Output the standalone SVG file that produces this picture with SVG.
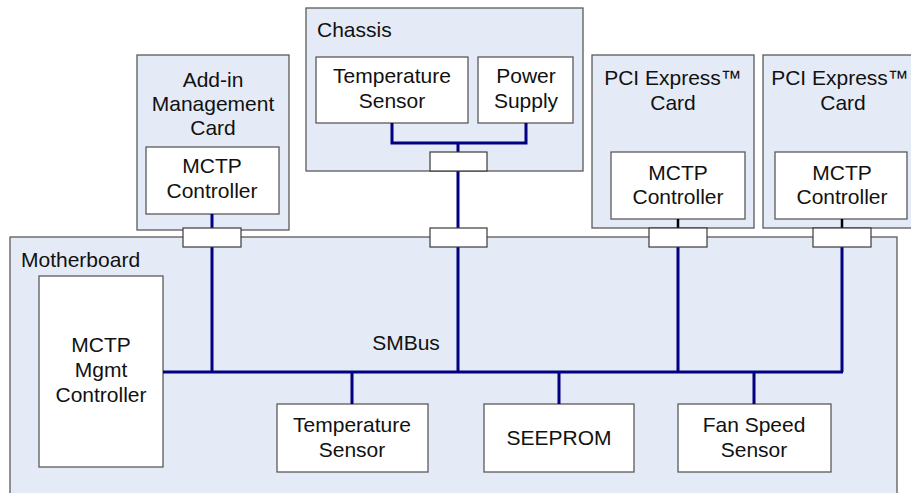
<svg xmlns="http://www.w3.org/2000/svg" width="911" height="493" viewBox="0 0 911 493">
<style>
.cont{fill:#e5ebf6;stroke:#5a5a5a;stroke-width:1.3}
.box{fill:#ffffff;stroke:#5a5a5a;stroke-width:1.3}
.conn{fill:#ffffff;stroke:#3a3a3a;stroke-width:1.2}
.bus{stroke:#000080;stroke-width:3;fill:none}
.blk{stroke:#000000;stroke-width:2.5;fill:none}
text{font-family:"Liberation Sans",Arial,sans-serif;font-size:21px;fill:#111}
.c{text-anchor:middle}
</style>
<rect width="911" height="493" fill="#ffffff"/>
<g id="addin-card">
<rect class="cont" x="137" y="55" width="152" height="175"/>
<text class="c" x="213" y="87">Add-in</text>
<text class="c" x="213" y="111">Management</text>
<text class="c" x="213" y="135">Card</text>
</g>
<g id="addin-mctp">
<rect class="box" x="146" y="147" width="133" height="67"/>
<text class="c" x="212" y="173">MCTP</text>
<text class="c" x="212" y="198">Controller</text>
</g>
<g id="chassis">
<rect class="cont" x="306" y="8" width="277" height="163"/>
<text x="317" y="37">Chassis</text>
</g>
<g id="chassis-temp">
<rect class="box" x="316" y="57" width="152" height="66"/>
<text class="c" x="392" y="83">Temperature</text>
<text class="c" x="392" y="108">Sensor</text>
</g>
<g id="power-supply">
<rect class="box" x="478" y="57" width="95" height="66"/>
<text class="c" x="526" y="83">Power</text>
<text class="c" x="526" y="108">Supply</text>
</g>
<g id="pcie-card-1">
<rect class="cont" x="592" y="55" width="162" height="173"/>
<text class="c" x="673" y="85">PCI Express™</text>
<text class="c" x="673" y="110">Card</text>
</g>
<g id="pcie-mctp-1">
<rect class="box" x="611" y="152" width="134" height="67"/>
<text class="c" x="678" y="180">MCTP</text>
<text class="c" x="678" y="204">Controller</text>
</g>
<g id="pcie-card-2">
<rect class="cont" x="763" y="55" width="162" height="173"/>
<text class="c" x="840" y="85">PCI Express™</text>
<text class="c" x="843" y="110">Card</text>
</g>
<g id="pcie-mctp-2">
<rect class="box" x="775" y="152" width="132" height="67"/>
<text class="c" x="842" y="180">MCTP</text>
<text class="c" x="842" y="204">Controller</text>
</g>
<g id="motherboard">
<rect class="cont" x="10" y="237" width="887" height="280"/>
<text x="21" y="267">Motherboard</text>
</g>
<g id="mgmt-controller">
<rect class="box" x="39" y="276" width="124" height="191"/>
<text class="c" x="101" y="352">MCTP</text>
<text class="c" x="101" y="377">Mgmt</text>
<text class="c" x="101" y="402">Controller</text>
</g>
<g id="mb-temp">
<rect class="box" x="277" y="404" width="151" height="68"/>
<text class="c" x="352" y="432">Temperature</text>
<text class="c" x="352" y="457">Sensor</text>
</g>
<g id="seeprom">
<rect class="box" x="484" y="404" width="150" height="68"/>
<text class="c" x="559" y="445">SEEPROM</text>
</g>
<g id="fan-speed">
<rect class="box" x="678" y="404" width="153" height="68"/>
<text class="c" x="754" y="432">Fan Speed</text>
<text class="c" x="754" y="457">Sensor</text>
</g>
<g id="connectors">
<path class="bus" d="M163 372H843"/>
<path class="bus" d="M212 214V372"/>
<path class="bus" d="M392 123V143H526V123M458 143V372"/>
<path class="bus" d="M678 238V372M842 238V372"/>
<path class="blk" d="M678 219V232M842 219V232"/>
<path class="bus" d="M352 372V404M559 372V404M754 372V404"/>
<rect class="conn" x="183" y="228" width="58" height="19"/>
<rect class="conn" x="430" y="152" width="57" height="19"/>
<rect class="conn" x="430" y="228" width="57" height="19"/>
<rect class="conn" x="649" y="228" width="58" height="19"/>
<rect class="conn" x="813" y="228" width="58" height="19"/>
</g>
<g id="bus-label">
<text class="c" x="406" y="350">SMBus</text>
</g>
</svg>
